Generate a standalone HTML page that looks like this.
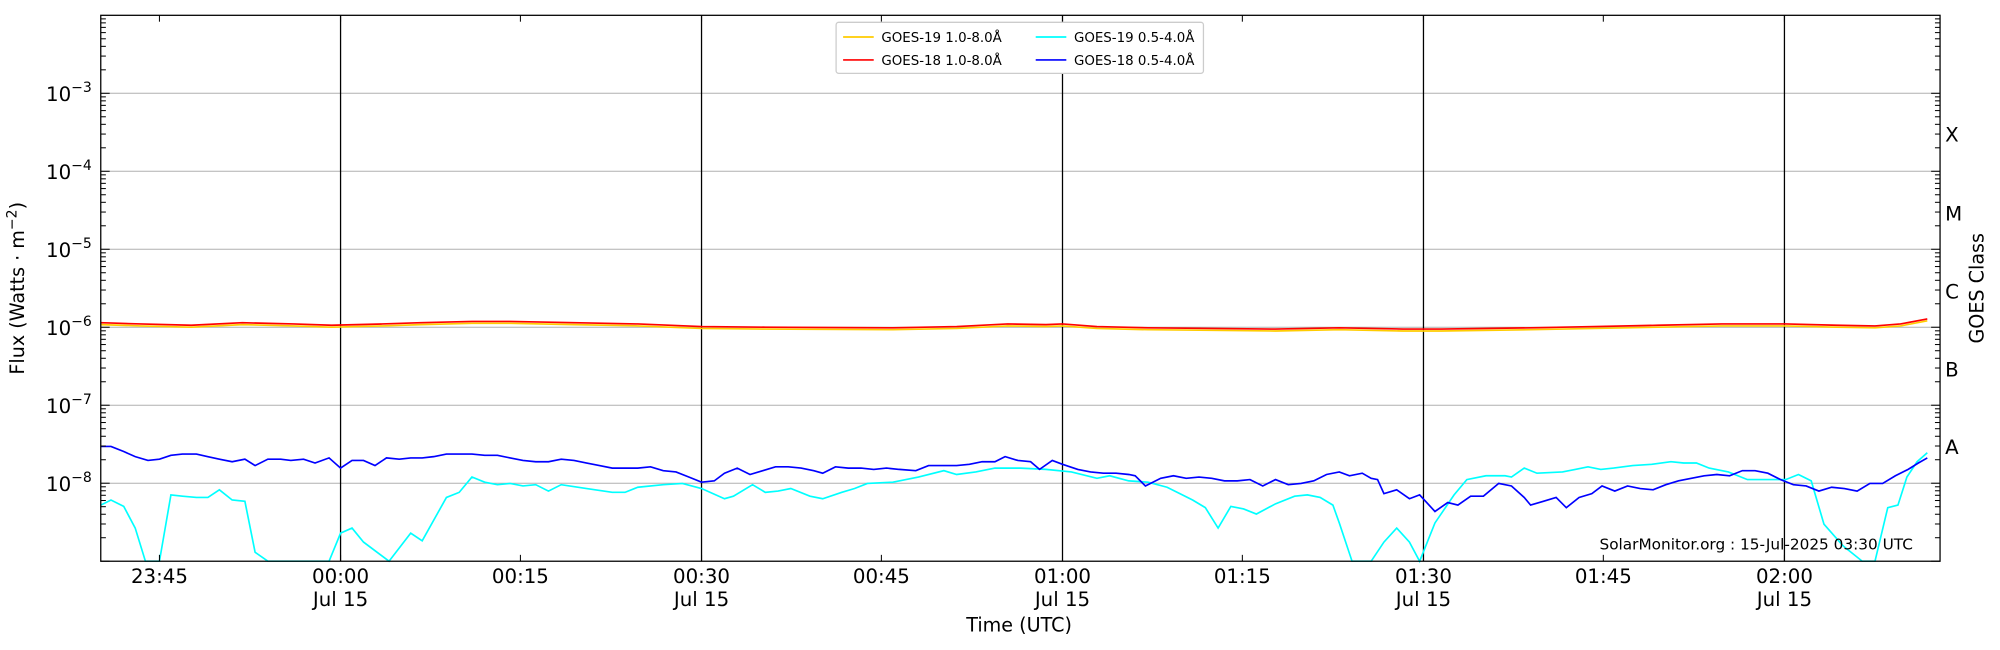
<!DOCTYPE html>
<html><head><meta charset="utf-8"><style>html,body{margin:0;padding:0;background:#fff}svg{display:block}</style></head>
<body>
<svg id="s" width="2000" height="650" viewBox="0 0 1568 509.6" xmlns="http://www.w3.org/2000/svg" font-family="DejaVu Sans, Liberation Sans, sans-serif">
<rect width="1568" height="509.6" fill="#fff"/>
<g id="grid"></g>
<g id="data" fill="none" stroke-width="1.3"></g>
<rect x="79" y="12" width="1442" height="428" fill="none" stroke="#000" stroke-width="1"/>
<g id="ticks" stroke="#000" stroke-width="0.8"></g>
<g id="labels" font-size="15.5" fill="#000"></g>
<text x="19" y="226" font-size="15" text-anchor="middle" transform="rotate(-90 19 226)">Flux (Watts · m<tspan font-size="11" dy="-6">−2</tspan><tspan dy="6">)</tspan></text>
<text x="1555" y="226" font-size="15" text-anchor="middle" transform="rotate(-90 1555 226)">GOES Class</text>
<text x="799" y="495" font-size="15" text-anchor="middle">Time (UTC)</text>
<text x="1254" y="431" font-size="12">SolarMonitor.org : 15-Jul-2025 03:30 UTC</text>
<g font-size="15.5">
<text x="1525" y="111">X</text><text x="1525" y="173">M</text><text x="1525" y="234">C</text><text x="1525" y="295">B</text><text x="1525" y="356">A</text>
</g>
<g>
<rect x="655.5" y="17.5" width="288" height="40" fill="#fff" stroke="#ccc" rx="2"/>
<line x1="661" y1="29" x2="685" y2="29" stroke="#ffcc00" stroke-width="1.3"/>
<text x="691" y="33" font-size="10.5">GOES-19 1.0-8.0Å</text>
<line x1="661" y1="47" x2="685" y2="47" stroke="#f00" stroke-width="1.3"/>
<text x="691" y="51" font-size="10.5">GOES-18 1.0-8.0Å</text>
<line x1="812" y1="29" x2="836" y2="29" stroke="#0ff" stroke-width="1.3"/>
<text x="842" y="33" font-size="10.5">GOES-19 0.5-4.0Å</text>
<line x1="812" y1="47" x2="836" y2="47" stroke="#00f" stroke-width="1.3"/>
<text x="842" y="51" font-size="10.5">GOES-18 0.5-4.0Å</text>
</g>
</svg>
<script>
const NS="http://www.w3.org/2000/svg";
function el(p,t,a,txt){const e=document.createElementNS(NS,t);for(const k in a)e.setAttribute(k,a[k]);if(txt!==undefined)e.innerHTML=txt;document.getElementById(p).appendChild(e);return e;}
const L=79,R=1521,T=12,B=440,D=61.14;
function yd(d){return T+(-2-d)*D;}
for(let d=-8;d<=-3;d++){const y=yd(d);el('grid','line',{x1:L,x2:R,y1:y,y2:y,stroke:'#b0b0b0','stroke-width':0.8});
 el('labels','text',{x:72,y:y+6,'text-anchor':'end'},'10<tspan font-size="11" dy="-7">−'+(-d)+'</tspan>');}
for(let d=-9;d<-2;d++){for(let m=1;m<=9;m++){const y=T+(-2-(d+Math.log10(m)))*D;if(y<T||y>B)continue;const len=m==1?7:4;
 el('ticks','line',{x1:L,x2:L+len,y1:y,y2:y});el('ticks','line',{x1:R-len,x2:R,y1:y,y2:y});}}
const tx=[[125,'23:45',0],[267,'00:00',1],[408,'00:15',0],[550,'00:30',1],[691,'00:45',0],[833,'01:00',1],[974,'01:15',0],[1116,'01:30',1],[1257,'01:45',0],[1399,'02:00',1]];
tx.forEach(([x,s,v])=>{if(v)el('grid','line',{x1:x,x2:x,y1:T,y2:B,stroke:'#000','stroke-width':1});
 el('ticks','line',{x1:x,x2:x,y1:B-5,y2:B});el('ticks','line',{x1:x,x2:x,y1:T,y2:T+5});
 el('labels','text',{x:x,y:457,'text-anchor':'middle'},s);if(v)el('labels','text',{x:x,y:475,'text-anchor':'middle'},'Jul 15');});
function pl(pts,c){el('data','polyline',{points:pts.map(p=>p.join(',')).join(' '),stroke:c});}
const cy=[[79,396],[87,392],[97,397],[106,414],[114,440],[125,440],[134,388],[143,389],[154,390],[163,390],[172,384],[182,392],[192,393],[200,433],[210,440],[258,440],[267,418],[276,414],[285,425],[305,440],[322,418],[331,424],[350,390],[360,386],[370,374],[380,378],[390,380],[400,379],[410,381],[420,380],[430,385],[440,380],[460,383],[480,386],[490,386],[500,382],[520,380],[535,379],[550,383],[568,391],[575,389],[590,380],[600,386],[610,385],[620,383],[635,389],[645,391],[660,386],[670,383],[680,379],[700,378],[720,374],[740,369],[750,372],[765,370],[780,367],[800,367],[820,368],[840,370],[860,375],[870,373],[885,377],[900,378],[915,382],[925,387],[935,392],[945,398],[955,414],[965,397],[975,399],[985,403],[1000,395],[1015,389],[1025,388],[1035,390],[1045,396],[1050,410],[1060,440],[1075,440],[1085,425],[1095,414],[1105,425],[1113,440],[1125,410],[1140,388],[1150,376],[1165,373],[1180,373],[1185,374],[1195,367],[1205,371],[1225,370],[1235,368],[1245,366],[1255,368],[1265,367],[1280,365],[1295,364],[1310,362],[1320,363],[1330,363],[1340,367],[1355,370],[1370,376],[1385,376],[1400,376],[1410,372],[1420,377],[1430,411],[1445,428],[1460,440],[1470,440],[1480,398],[1488,396],[1495,374],[1503,362],[1511,355]];
const bl=[[79,350],[87,350],[97,354],[106,358],[116,361],[125,360],[134,357],[143,356],[154,356],[163,358],[172,360],[182,362],[192,360],[200,365],[210,360],[220,360],[228,361],[238,360],[247,363],[258,359],[267,367],[276,361],[285,361],[294,365],[303,359],[313,360],[322,359],[331,359],[340,358],[350,356],[360,356],[370,356],[380,357],[390,357],[400,359],[410,361],[420,362],[430,362],[440,360],[450,361],[460,363],[470,365],[480,367],[490,367],[500,367],[510,366],[520,369],[530,370],[540,374],[550,378],[560,377],[568,371],[578,367],[588,372],[598,369],[608,366],[618,366],[628,367],[638,369],[645,371],[655,366],[665,367],[675,367],[685,368],[695,367],[705,368],[718,369],[728,365],[740,365],[750,365],[760,364],[770,362],[780,362],[788,358],[798,361],[808,362],[815,368],[825,361],[833,364],[845,368],[855,370],[865,371],[875,371],[885,372],[890,373],[898,381],[910,375],[920,373],[930,375],[940,374],[950,375],[960,377],[970,377],[980,376],[990,381],[1000,376],[1010,380],[1020,379],[1030,377],[1040,372],[1050,370],[1058,373],[1068,371],[1075,375],[1080,376],[1085,387],[1095,384],[1105,391],[1113,388],[1125,401],[1135,394],[1143,396],[1153,389],[1163,389],[1175,379],[1185,381],[1195,390],[1200,396],[1210,393],[1220,390],[1228,398],[1238,390],[1248,387],[1256,381],[1266,385],[1276,381],[1286,383],[1296,384],[1306,380],[1316,377],[1326,375],[1336,373],[1346,372],[1356,373],[1366,369],[1376,369],[1386,371],[1396,376],[1406,380],[1416,381],[1426,385],[1436,382],[1446,383],[1456,385],[1466,379],[1476,379],[1486,373],[1496,368],[1504,363],[1511,359]];
const rd=[[79,253],[110,254],[150,255],[190,253],[230,254],[260,255],[300,254],[330,253],[370,252],[400,252],[450,253],[500,254],[550,256],[600,256.5],[700,257],[750,256],[790,254],[820,254.5],[833,254],[860,256],[900,257],[950,257.5],[1000,258],[1050,257],[1100,258],[1130,258],[1200,257],[1250,256],[1300,255],[1350,254],[1400,254],[1440,255],[1470,255.5],[1490,254],[1511,250]];
pl(cy,'#00ffff');pl(bl,'#0000ff');
pl(rd.map(p=>[p[0],p[1]+1.5]),'#ffcc00');pl(rd,'#ff0000');
</script>
</body></html>
